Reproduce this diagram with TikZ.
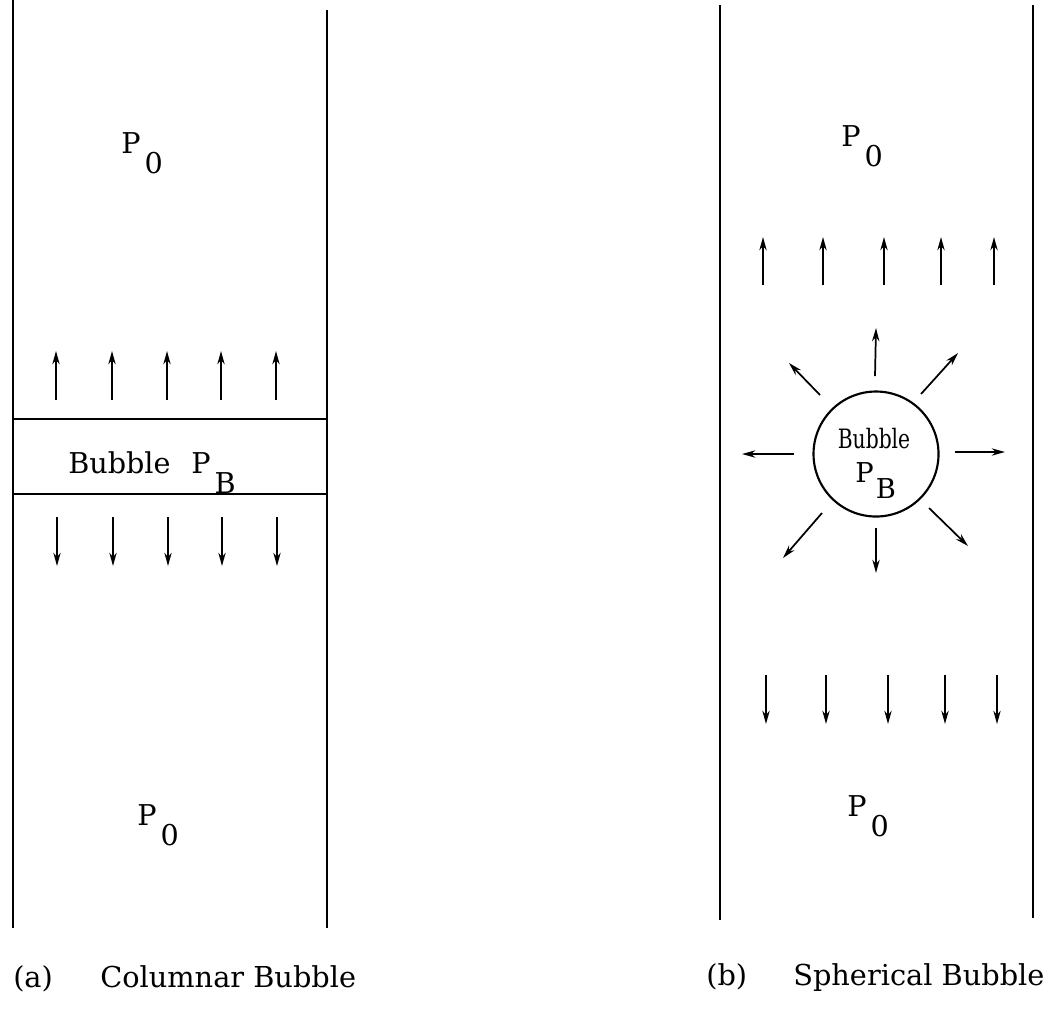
\documentclass[tikz,border=0pt]{standalone}
\usepackage{fontspec}
\setmainfont{DejaVu Serif}
\usetikzlibrary{arrows.meta,calc}
\tikzset{
  wall/.style={line width=1.9pt, black},
  arr/.style={line width=1.3pt, -{Stealth[length=10pt,width=5.5pt]}},
  bubline/.style={line width=1.6pt},
  lbl/.style={inner sep=0pt, anchor=base west, font=\fontsize{21.5}{25}\selectfont},
  captxt/.style={inner sep=0pt, anchor=base west, font=\fontsize{21.6}{25}\selectfont},
}
\newcommand{\PSub}[1]{P\hspace{0.14em}\raisebox{-15pt}{#1}}
\begin{document}
\begin{tikzpicture}[x=0.75pt,y=-0.75pt]
\useasboundingbox (0,0) rectangle (1062,1026);
% ---------- panel (a) ----------
\coordinate (aLt) at (13,0);   \coordinate (aLb) at (13,928);
\coordinate (aRt) at (327,10); \coordinate (aRb) at (327,928);
\draw[wall] (aLt) -- (aLb);
\draw[wall] (aRt) -- (aRb);
\coordinate (aT1) at (13,419); \coordinate (aT2) at (327,419);
\coordinate (aB1) at (13,494); \coordinate (aB2) at (327,494);
\draw[bubline] (aT1) -- (aT2);
\draw[bubline] (aB1) -- (aB2);
\foreach \i/\x in {1/56,2/112,3/167,4/221,5/276}{
  \coordinate (au\i s) at (\x,400); \coordinate (au\i e) at (\x,351);
  \draw[arr] (au\i s) -- (au\i e);
  \coordinate (ad\i s) at (\x+1,517); \coordinate (ad\i e) at (\x+1,566);
  \draw[arr] (ad\i s) -- (ad\i e);
}
\node[lbl] (aP0top) at (121,153) {\PSub{0}};
\node[lbl] (aBub) at (68,473) {Bubble};
\node[lbl] (aPB) at (191,473) {\PSub{B}};
\node[lbl] (aP0bot) at (137,825) {\PSub{0}};
\node[captxt] (capa) at (13,987) {(a)};
\node[captxt] (capat) at (100,987) {Columnar Bubble};
% ---------- panel (b) ----------
\coordinate (bLt) at (720,5);  \coordinate (bLb) at (720,920);
\coordinate (bRt) at (1033,5); \coordinate (bRb) at (1033,918);
\draw[wall] (bLt) -- (bLb);
\draw[wall] (bRt) -- (bRb);
\foreach \i/\x in {1/763,2/823,3/884,4/941,5/994}{
  \coordinate (bu\i s) at (\x,285); \coordinate (bu\i e) at (\x,237);
  \draw[arr] (bu\i s) -- (bu\i e);
}
\foreach \i/\x in {1/766,2/826,3/888,4/945,5/997}{
  \coordinate (bd\i s) at (\x,675); \coordinate (bd\i e) at (\x,724);
  \draw[arr] (bd\i s) -- (bd\i e);
}
\node[circle, draw, line width=1.6pt, minimum size=125*0.75pt, inner sep=0pt] (bub) at (876,454) {};
\node[inner sep=0pt, anchor=base, font=\fontsize{20}{24}\selectfont] (bubtxt) at (874,448) {\scalebox{0.76}[1]{Bubble}};
\node[inner sep=0pt, anchor=base west, font=\fontsize{20.5}{24}\selectfont] (bubPB) at (855,482) {P\hspace{0.08em}\raisebox{-12pt}{B}};
% radial arrows (offsets from the bubble centre, in px, y downward)
\foreach \n/\sx/\sy/\ex/\ey in {
  up/-1/-78/0/-126,
  dn/0/74/0/119,
  lf/-82/0/-134/0,
  rt/79/-2/129/-2,
  ul/-56/-59/-87/-91,
  ur/45/-60/82/-101,
  dl/-54/59/-93/104,
  dr/53/54/92/92}{
  \coordinate (r\n s) at ($(bub.center)+(\sx,\sy)$);
  \coordinate (r\n e) at ($(bub.center)+(\ex,\ey)$);
  \draw[arr] (r\n s) -- (r\n e);
}
\node[lbl] (bP0top) at (841,146) {\PSub{0}};
\node[lbl] (bP0bot) at (847,816) {\PSub{0}};
\node[captxt] (capb) at (706,985) {(b)};
\node[captxt] (capbt) at (793,985) {Spherical Bubble};
\end{tikzpicture}
\end{document}
